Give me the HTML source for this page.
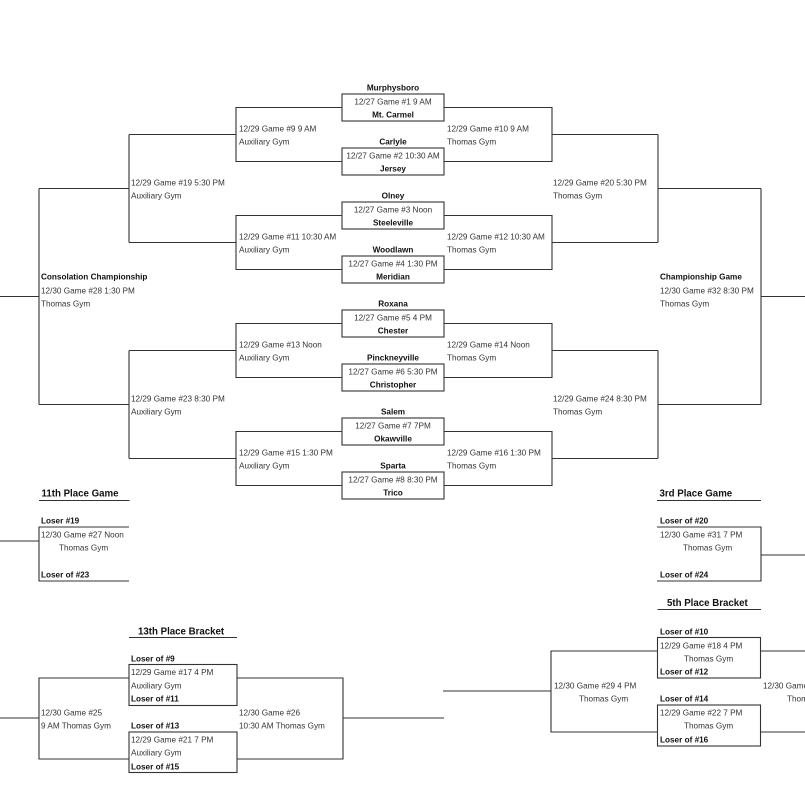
<!DOCTYPE html>
<html><head><meta charset="utf-8"><style>
html,body{margin:0;padding:0;background:#fff;}
svg{display:block;}
text{font-family:"Liberation Sans",Arial,sans-serif;font-size:8.2px;fill:#333;dominant-baseline:central;}
.b{font-weight:bold;fill:#111;}
.t{font-weight:bold;font-size:9.7px;fill:#111;}
.c{text-anchor:middle;}
path,rect,line{stroke:#333;stroke-width:1.1;fill:none;}
</style></head><body>
<svg width="805" height="799" viewBox="0 0 805 799" xmlns="http://www.w3.org/2000/svg">
<rect x="0" y="0" width="805" height="799" style="fill:#fff;stroke:none"/>
<!-- first round boxes -->
<rect x="342" y="94" width="102" height="27"/>
<rect x="342" y="148" width="102" height="27"/>
<rect x="342" y="202" width="102" height="27"/>
<rect x="342" y="256" width="102" height="27"/>
<rect x="342" y="310" width="102" height="27"/>
<rect x="342" y="364" width="102" height="27"/>
<rect x="342" y="418" width="102" height="27"/>
<rect x="342" y="472" width="102" height="27"/>
<!-- left brackets -->
<path d="M342,107.5H236V161.5H342M236,134.5H129"/>
<path d="M342,215.5H236V269.5H342M236,242.5H129"/>
<path d="M342,323.5H236V377.5H342M236,350.5H129"/>
<path d="M342,431.5H236V485.5H342M236,458.5H129"/>
<path d="M129,134.5V242.5M129,188.5H39"/>
<path d="M129,350.5V458.5M129,404.5H39"/>
<path d="M39,188.5V404.5M39,296.5H0"/>
<!-- right brackets -->
<path d="M444,107.5H552V161.5H444M552,134.5H658"/>
<path d="M444,215.5H552V269.5H444M552,242.5H658"/>
<path d="M444,323.5H552V377.5H444M552,350.5H658"/>
<path d="M444,431.5H552V485.5H444M552,458.5H658"/>
<path d="M658,134.5V242.5M658,188.5H761"/>
<path d="M658,350.5V458.5M658,404.5H761"/>
<path d="M761,188.5V404.5M761,296.5H805"/>

<!-- box texts -->
<text class="b c" x="393" y="88">Murphysboro</text>
<text class="c" x="393" y="102">12/27 Game #1 9 AM</text>
<text class="b c" x="393" y="115">Mt. Carmel</text>
<text class="b c" x="393" y="142">Carlyle</text>
<text class="c" x="393" y="156">12/27 Game #2 10:30 AM</text>
<text class="b c" x="393" y="169">Jersey</text>
<text class="b c" x="393" y="196">Olney</text>
<text class="c" x="393" y="210">12/27 Game #3 Noon</text>
<text class="b c" x="393" y="223">Steeleville</text>
<text class="b c" x="393" y="250">Woodlawn</text>
<text class="c" x="393" y="264">12/27 Game #4 1:30 PM</text>
<text class="b c" x="393" y="277">Meridian</text>
<text class="b c" x="393" y="304">Roxana</text>
<text class="c" x="393" y="318">12/27 Game #5 4 PM</text>
<text class="b c" x="393" y="331">Chester</text>
<text class="b c" x="393" y="358">Pinckneyville</text>
<text class="c" x="393" y="372">12/27 Game #6 5:30 PM</text>
<text class="b c" x="393" y="385">Christopher</text>
<text class="b c" x="393" y="412">Salem</text>
<text class="c" x="393" y="426">12/27 Game #7 7PM</text>
<text class="b c" x="393" y="439">Okawville</text>
<text class="b c" x="393" y="466">Sparta</text>
<text class="c" x="393" y="480">12/27 Game #8 8:30 PM</text>
<text class="b c" x="393" y="493">Trico</text>

<!-- left bracket texts -->
<text x="239" y="129">12/29 Game #9 9 AM</text>
<text x="239" y="142">Auxiliary Gym</text>
<text x="239" y="237">12/29 Game #11 10:30 AM</text>
<text x="239" y="250">Auxiliary Gym</text>
<text x="239" y="345">12/29 Game #13 Noon</text>
<text x="239" y="358">Auxiliary Gym</text>
<text x="239" y="453">12/29 Game #15 1:30 PM</text>
<text x="239" y="466">Auxiliary Gym</text>
<text x="131" y="183">12/29 Game #19 5:30 PM</text>
<text x="131" y="196">Auxiliary Gym</text>
<text x="131" y="399">12/29 Game #23 8:30 PM</text>
<text x="131" y="412">Auxiliary Gym</text>
<text class="b" x="41" y="277">Consolation Championship</text>
<text x="41" y="291">12/30 Game #28 1:30 PM</text>
<text x="41" y="304">Thomas Gym</text>

<!-- right bracket texts -->
<text x="447" y="129">12/29 Game #10 9 AM</text>
<text x="447" y="142">Thomas Gym</text>
<text x="447" y="237">12/29 Game #12 10:30 AM</text>
<text x="447" y="250">Thomas Gym</text>
<text x="447" y="345">12/29 Game #14 Noon</text>
<text x="447" y="358">Thomas Gym</text>
<text x="447" y="453">12/29 Game #16 1:30 PM</text>
<text x="447" y="466">Thomas Gym</text>
<text x="553" y="183">12/29 Game #20 5:30 PM</text>
<text x="553" y="196">Thomas Gym</text>
<text x="553" y="399">12/29 Game #24 8:30 PM</text>
<text x="553" y="412">Thomas Gym</text>
<text class="b" x="660" y="277">Championship Game</text>
<text x="660" y="291">12/30 Game #32 8:30 PM</text>
<text x="660" y="304">Thomas Gym</text>

<!-- 11th place -->
<text class="t" x="41.5" y="494">11th Place Game</text>
<path d="M39,500.5H129.5"/>
<text class="b" x="41" y="521">Loser #19</text>
<path d="M129,527H39V581H129M0,541H39"/>
<text x="41" y="535">12/30 Game #27 Noon</text>
<text x="59" y="548">Thomas Gym</text>
<text class="b" x="41" y="575">Loser of #23</text>

<!-- 3rd place -->
<text class="t" x="659.5" y="494">3rd Place Game</text>
<path d="M657,500.5H761"/>
<text class="b" x="660" y="521">Loser of #20</text>
<path d="M657,527H761V581H657M761,555H805"/>
<text x="660" y="535">12/30 Game #31 7 PM</text>
<text x="683" y="548">Thomas Gym</text>
<text class="b" x="660" y="575">Loser of #24</text>

<!-- 13th place -->
<text class="t" x="138" y="632">13th Place Bracket</text>
<path d="M129,637.5H237"/>
<text class="b" x="131" y="659">Loser of #9</text>
<rect x="129" y="664.5" width="108" height="41"/>
<text x="131" y="672.5">12/29 Game #17 4 PM</text>
<text x="131" y="686">Auxiliary Gym</text>
<text class="b" x="131" y="699">Loser of #11</text>
<path d="M129,678H39V759H129M0,718H39"/>
<text x="41" y="713">12/30 Game #25</text>
<text x="41" y="726">9 AM Thomas Gym</text>
<text class="b" x="131" y="726">Loser of #13</text>
<rect x="129" y="732" width="108" height="40.5"/>
<text x="131" y="740">12/29 Game #21 7 PM</text>
<text x="131" y="753">Auxiliary Gym</text>
<text class="b" x="131" y="767">Loser of #15</text>
<path d="M237,678H343V759H237M343,718H444"/>
<text x="239" y="713">12/30 Game #26</text>
<text x="239" y="726">10:30 AM Thomas Gym</text>

<!-- 5th place -->
<text class="t" x="667" y="603.5">5th Place Bracket</text>
<path d="M657.5,609.5H761"/>
<text class="b" x="660" y="632">Loser of #10</text>
<rect x="657.5" y="637.5" width="103" height="40.5"/>
<text x="660" y="646">12/29 Game #18 4 PM</text>
<text x="684" y="659">Thomas Gym</text>
<text class="b" x="660" y="672">Loser of #12</text>
<path d="M657.5,651H551V732H657.5M443,691H551"/>
<text x="554" y="686">12/30 Game #29 4 PM</text>
<text x="579" y="699">Thomas Gym</text>
<text class="b" x="660" y="699">Loser of #14</text>
<rect x="657.5" y="705" width="103" height="41"/>
<text x="660" y="713">12/29 Game #22 7 PM</text>
<text x="684" y="726">Thomas Gym</text>
<text class="b" x="660" y="740">Loser of #16</text>
<path d="M760.5,651H805M760.5,732H805"/>
<text x="763" y="686">12/30 Game #30</text>
<text x="787" y="699">Thomas Gym</text>
</svg>
</body></html>
